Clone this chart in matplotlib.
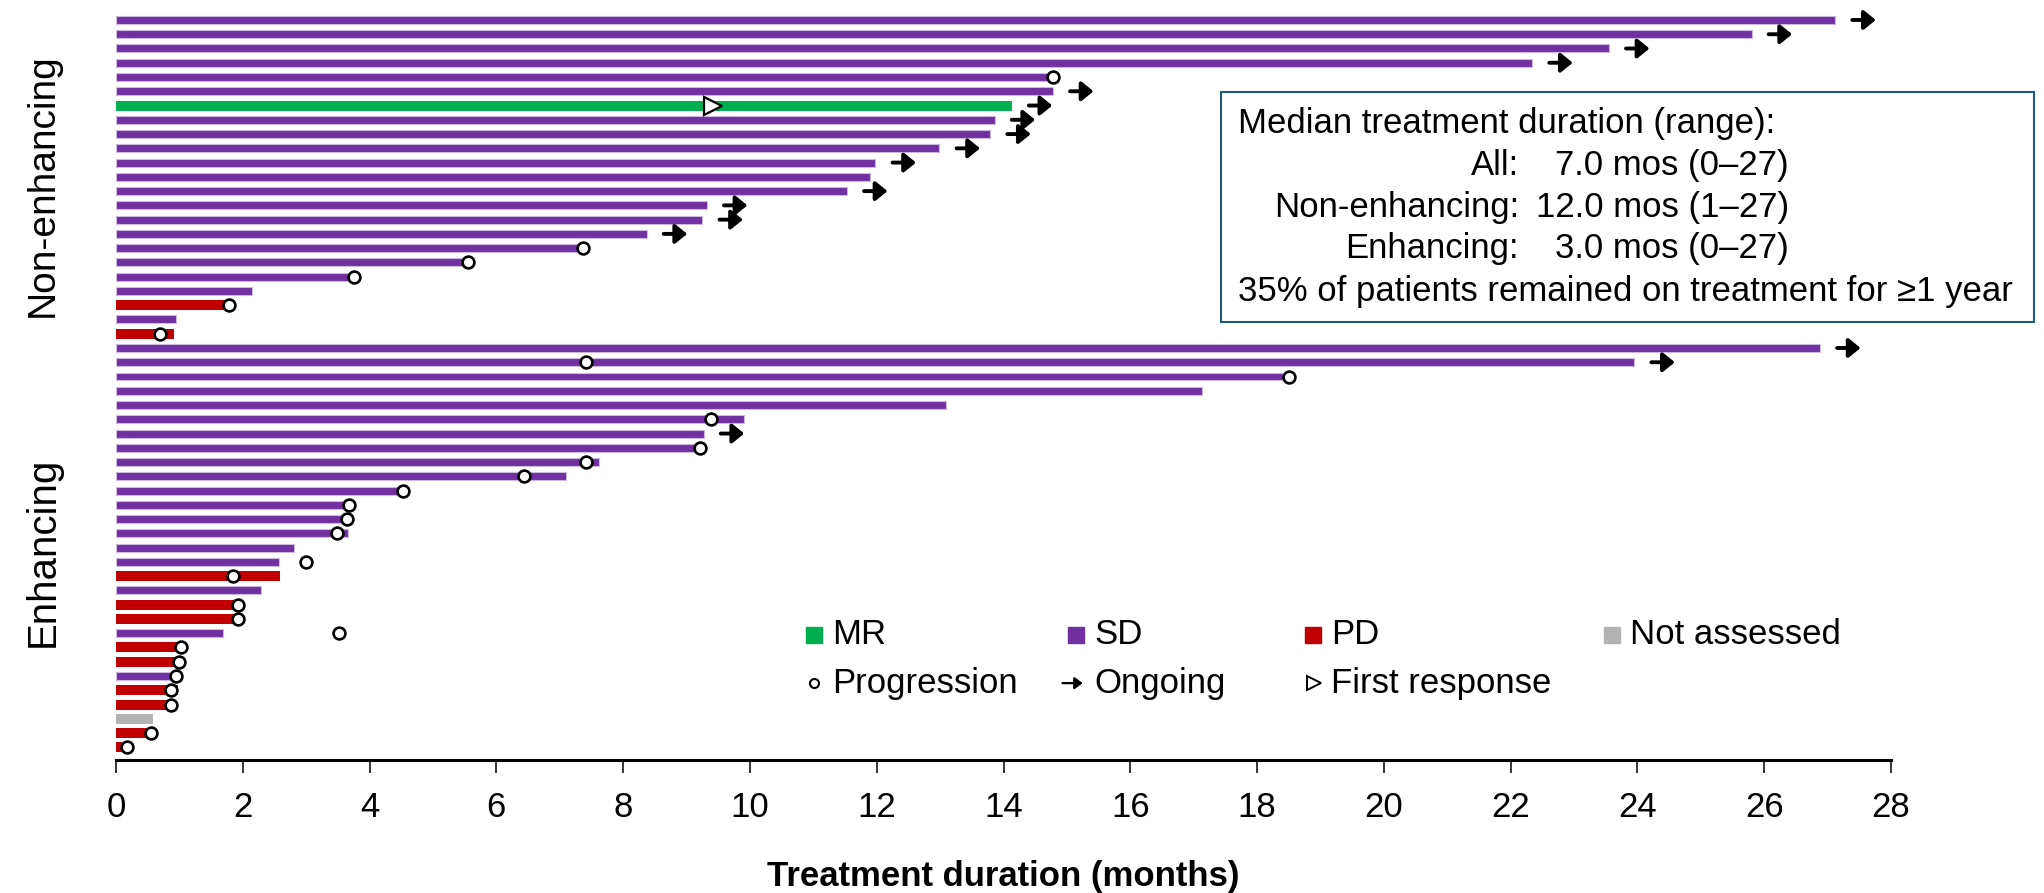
import numpy as np
import matplotlib.pyplot as plt
from matplotlib.patches import Rectangle

plt.rcParams['font.family'] = ['Liberation Sans', 'DejaVu Sans']

nan = np.nan

# Non-enhancing patients, listed top to bottom (months)
ne_duration = [27.12, 25.80, 23.55, 22.34, 14.78, 14.78, 14.13, 13.86, 13.79, 12.99,
               11.98, 11.90, 11.53, 9.32, 9.25, 8.37, 7.36, 5.55, 3.75, 2.14,
               1.78, 0.94, 0.92]
ne_response = ['SD', 'SD', 'SD', 'SD', 'SD', 'SD', 'MR', 'SD', 'SD', 'SD',
               'SD', 'SD', 'SD', 'SD', 'SD', 'SD', 'SD', 'SD', 'SD', 'SD',
               'PD', 'SD', 'PD']
ne_progression = [nan, nan, nan, nan, 14.78, nan, nan, nan, nan, nan,
                  nan, nan, nan, nan, nan, nan, 7.36, 5.55, 3.75, nan,
                  1.78, nan, 0.69]
ne_ongoing = [1, 1, 1, 1, 0, 1, 1, 1, 1, 1,
              1, 0, 1, 1, 1, 1, 0, 0, 0, 0,
              0, 0, 0]
ne_first_response = [nan, nan, nan, nan, nan, nan, 9.42, nan, nan, nan,
                     nan, nan, nan, nan, nan, nan, nan, nan, nan, nan,
                     nan, nan, nan]

# Enhancing patients, listed top to bottom (months)
en_duration = [26.88, 23.95, 18.47, 17.13, 13.09, 9.91, 9.27, 9.22, 7.62, 7.10,
               4.47, 3.67, 3.61, 3.66, 2.81, 2.57, 2.59, 2.29, 1.88, 1.90,
               1.68, 1.03, 0.99, 0.90, 0.98, 0.94, 0.58, 0.49, 0.09]
en_response = ['SD', 'SD', 'SD', 'SD', 'SD', 'SD', 'SD', 'SD', 'SD', 'SD',
               'SD', 'SD', 'SD', 'SD', 'SD', 'SD', 'PD', 'SD', 'PD', 'PD',
               'SD', 'PD', 'PD', 'SD', 'PD', 'PD', 'NA', 'PD', 'PD']
en_progression = [nan, 7.41, 18.50, nan, nan, 9.38, nan, 9.22, 7.41, 6.44,
                  4.52, 3.67, 3.64, 3.48, nan, 3.00, 1.84, nan, 1.92, 1.92,
                  3.52, 1.03, 0.99, 0.95, 0.87, 0.87, nan, 0.55, 0.18]
en_ongoing = [1, 1, 0, 0, 0, 0, 1, 0, 0, 0,
              0, 0, 0, 0, 0, 0, 0, 0, 0, 0,
              0, 0, 0, 0, 0, 0, 0, 0, 0]
en_first_response = [nan] * 29

summary_title = 'Median treatment duration (range):'
summary_labels = ['All:', 'Non-enhancing:', 'Enhancing:']
summary_values = ['7.0 mos (0\u201327)', '12.0 mos (1\u201327)', '3.0 mos (0\u201327)']
summary_footer = '35% of patients remained on treatment for \u22651 year'

colors = {'MR': '#00B050', 'SD': '#7030A0', 'PD': '#C00000', 'NA': '#B3B3B3'}
legend_names = {'MR': 'MR', 'SD': 'SD', 'PD': 'PD', 'NA': 'Not assessed'}

duration = np.array(ne_duration + en_duration)
response = ne_response + en_response
progression = np.array(ne_progression + en_progression)
ongoing = np.array(ne_ongoing + en_ongoing, dtype=bool)
first_response = np.array(ne_first_response + en_first_response)
n = len(duration)
rows = np.arange(n)

fig = plt.figure(figsize=(20.44, 8.93), dpi=100)
ax = fig.add_axes([116 / 2044, 1 - 760 / 893, (1891 - 116) / 2044, 760 / 893])

heights = [0.56 if r == 'SD' else 0.7 for r in response]
ax.barh(rows, duration, height=heights, color=[colors[r] for r in response],
        edgecolor=['#CDB8E3' if r == 'SD' else 'none' for r in response],
        linewidth=0.8, zorder=2)

# ongoing treatment arrows
for y, d in zip(rows[ongoing], duration[ongoing]):
    ax.annotate('', xy=(d + 0.64, y), xytext=(d + 0.27, y),
                arrowprops=dict(arrowstyle='-|>,head_length=0.32,head_width=0.26',
                                color='black', lw=2.8, mutation_scale=22,
                                shrinkA=0, shrinkB=0), zorder=3)

ax.plot(progression, rows, 'o', mfc='white', mec='black', ms=8.5, mew=1.9,
        zorder=4, clip_on=False)
ax.plot(first_response, rows, '>', mfc='white', mec='black', ms=13, mew=1.6,
        zorder=4)

ax.set_xlim(0, 28)
ax.set_ylim(n - 1 + 0.89, -1.40)
ax.set_xticks(np.arange(0, 29, 2))
ax.set_yticks([])
for side in ['left', 'top', 'right']:
    ax.spines[side].set_visible(False)
ax.spines['bottom'].set_linewidth(2.2)
ax.tick_params(axis='x', direction='out', length=9.2, width=1.1,
               labelsize=25, pad=13)

fig.text(0.4910, 1 - 886 / 893, 'Treatment duration (months)', ha='center',
         va='baseline', fontsize=25, fontweight='bold')

n_ne = len(ne_duration)
ax.text(-1.15, (n_ne - 1) / 2 + 0.6, 'Non-enhancing', rotation=90,
        ha='center', va='center', fontsize=28, clip_on=False)
ax.text(-1.15, n_ne + (len(en_duration) - 1) / 2 + 0.3, 'Enhancing',
        rotation=90, ha='center', va='center', fontsize=29, clip_on=False)

# legend, laid out by hand
leg_y1, leg_y2 = 43.1, 46.5
for key, xs, xt in [('MR', 11.01, 11.30), ('SD', 15.14, 15.43),
                    ('PD', 18.88, 19.17), ('NA', 23.60, 23.88)]:
    ax.plot(xs, leg_y1, 's', color=colors[key], ms=11, zorder=5)
    ax.text(xt, leg_y1, legend_names[key], va='center', fontsize=25)
ax.plot(11.01, leg_y2, 'o', mfc='white', mec='black', ms=6.5, mew=1.5)
ax.text(11.30, leg_y2, 'Progression', va='center', fontsize=25)
ax.annotate('', xy=(15.25, leg_y2), xytext=(14.93, leg_y2),
            arrowprops=dict(arrowstyle='-|>,head_length=0.3,head_width=0.22',
                            color='black', lw=1.6, mutation_scale=16,
                            shrinkA=0, shrinkB=0))
ax.text(15.43, leg_y2, 'Ongoing', va='center', fontsize=25)
ax.plot(18.90, leg_y2, '>', mfc='white', mec='black', ms=10, mew=1.4)
ax.text(19.17, leg_y2, 'First response', va='center', fontsize=25)

# summary box
fig.patches.append(Rectangle((1221 / 2044, 1 - 322 / 893), 813 / 2044, 230 / 893,
                             transform=fig.transFigure, facecolor='white',
                             edgecolor='#1F5A7A', linewidth=1.5, zorder=1))
fig.text(1238 / 2044, 1 - 133 / 893, summary_title, fontsize=25, va='baseline')
for i, (lab, val) in enumerate(zip(summary_labels, summary_values)):
    yb = 1 - (175 + 41.7 * i) / 893
    fig.text(1519 / 2044, yb, lab, ha='right', va='baseline', fontsize=25)
    fig.text(1789 / 2044, yb, val, ha='right', va='baseline', fontsize=25)
fig.text(1238 / 2044, 1 - 301 / 893, summary_footer, fontsize=25, va='baseline')

fig.savefig('out.png', dpi=100)
